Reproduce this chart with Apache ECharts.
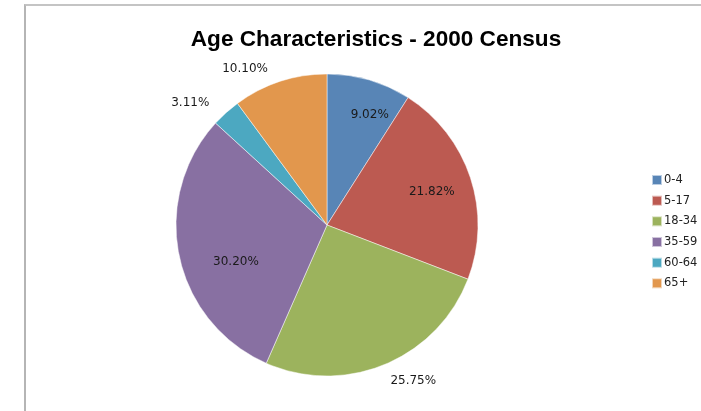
<!DOCTYPE html>
<html>
<head>
<meta charset="utf-8">
<script src="https://cdn.jsdelivr.net/npm/echarts@6/dist/echarts.min.js"></script>
<style>
  html, body { margin: 0; padding: 0; background: #fff; }
  #frame { position: absolute; left: 24px; top: 4px; width: 690px; height: 420px;
           border-left: 2px solid #b5b5b5; border-top: 2px solid #c4c4c4; }
  #chart { position: absolute; left: 0; top: 0; width: 701px; height: 411px; }
</style>
</head>
<body>
<div id="frame"></div>
<div id="chart"></div>
<script>
// Age groups and their share of the population (percent)
const categories = ['0-4', '5-17', '18-34', '35-59', '60-64', '65+'];
const shares = [9.02, 21.82, 25.75, 30.20, 3.11, 10.10];
const colors = ['#5885B6', '#BC5A51', '#9CB35D', '#8870A2', '#4CA8C1', '#E2974D'];
// which slices carry their label inside the wedge
const labelInside = [true, true, false, true, false, false];
// small hand nudges [dx, dy] for each percentage label
const labelNudge = [[11, -1], [-3, 2], [-7, -1], [20, 13], [1, 4], [-1, 5]];

const chart = echarts.init(document.getElementById('chart'), null, { renderer: 'canvas' });

const center = ['327', '225'];
const labelFont = { fontFamily: 'DejaVu Sans', fontSize: 12, color: '#1a1a1a' };

const fmt = p => p.value.toFixed(2) + '%';

chart.setOption({
  animation: false,
  color: colors,
  title: {
    text: 'Age Characteristics - 2000 Census',
    left: 371, top: 23, textAlign: 'center',
    textStyle: { fontFamily: 'Liberation Sans', fontSize: 22.6, fontWeight: 'bold', color: '#000' }
  },
  legend: {
    orient: 'vertical',
    left: 651, top: 174,
    padding: 0,
    itemWidth: 10, itemHeight: 10, itemGap: 8.67,
    icon: 'rect',
    textStyle: { fontFamily: 'DejaVu Sans', fontSize: 11.5, lineHeight: 12, color: '#222', padding: [0, 0, 0, -3] },
    data: categories
  },
  series: [
    {
      // the pie itself
      type: 'pie',
      center: center,
      radius: [0, 151],
      startAngle: 90,
      clockwise: true,
      avoidLabelOverlap: false,
      label: { show: false },
      labelLine: { show: false },
      itemStyle: { borderColor: 'rgba(255,255,255,0.6)', borderWidth: 0.8 },
      data: categories.map((c, i) => ({ name: c, value: shares[i] }))
    },
    {
      // transparent ring used only to place the percentage labels
      type: 'pie',
      center: center,
      radius: [70, 151],
      startAngle: 90,
      clockwise: true,
      silent: true,
      avoidLabelOverlap: false,
      legendHoverLink: false,
      itemStyle: { color: 'rgba(0,0,0,0)' },
      labelLine: { show: false, length: 19, length2: 0 },
      labelLayout: p => ({ dx: labelNudge[p.dataIndex][0], dy: labelNudge[p.dataIndex][1] }),
      data: categories.map((c, i) => ({
        name: c,
        value: shares[i],
        label: Object.assign({
          show: true,
          formatter: fmt,
          position: labelInside[i] ? 'inside' : 'outside'
        }, labelFont)
      }))
    }
  ]
});
</script>
</body>
</html>
